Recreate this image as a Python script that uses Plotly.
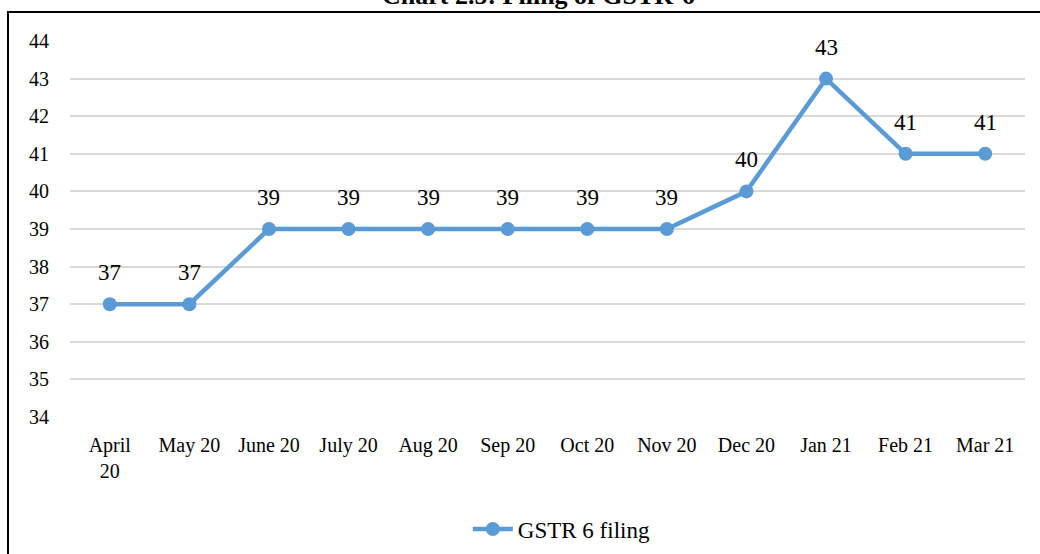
import plotly.graph_objects as go

months = ["April<br>20", "May 20", "June 20", "July 20", "Aug 20", "Sep 20",
          "Oct 20", "Nov 20", "Dec 20", "Jan 21", "Feb 21", "Mar 21"]
filings = [37, 37, 39, 39, 39, 39, 39, 39, 40, 43, 41, 41]
series_name = "GSTR 6 filing"
title_text = "Chart 2.5: Filing of GSTR-6"

FONT = "Liberation Serif"
BLUE = "#5B9BD5"

fig = go.Figure()
fig.add_trace(go.Scatter(
    x=months, y=filings, mode="lines+markers", name=series_name,
    line=dict(color=BLUE, width=4.5),
    marker=dict(color=BLUE, size=14),
    hoverinfo="skip",
))

for m, v in zip(months, filings):
    fig.add_annotation(x=m, y=v, xref="x", yref="y", text=str(v),
                       showarrow=False, yshift=31.5,
                       font=dict(family=FONT, size=23, color="#000000"))

L, R, T, B = 70, 15, 41, 137
W, H = 1040, 554
pw = W - L - R
ph = H - T - B

def px_to_paper_x(px):
    return (px - L) / pw

def px_to_paper_y(py):
    return (H - B - py) / ph

# outer chart border (partially off-canvas, as in the reference)
fig.add_shape(type="rect", xref="paper", yref="paper",
              x0=px_to_paper_x(8), x1=px_to_paper_x(1060),
              y0=px_to_paper_y(580), y1=px_to_paper_y(12),
              line=dict(color="#000000", width=2), fillcolor="rgba(0,0,0,0)",
              layer="below")

fig.add_annotation(text="<b>" + title_text + "</b>", xref="paper", yref="paper",
                   x=px_to_paper_x(538), y=px_to_paper_y(12), xanchor="center",
                   yanchor="bottom", showarrow=False,
                   font=dict(family=FONT, size=26, color="#000000"))

fig.update_layout(
    width=W, height=H,
    margin=dict(l=L, r=R, t=T, b=B, pad=0, autoexpand=False),
    paper_bgcolor="white", plot_bgcolor="white",
    font=dict(family=FONT, size=20, color="#000000"),
    showlegend=True,
    legend=dict(orientation="h", x=0.515, xanchor="center",
                y=px_to_paper_y(529), yanchor="middle",
                font=dict(family=FONT, size=23, color="#000000"),
                itemwidth=40),
    xaxis=dict(type="category", range=[-0.5, len(months) - 0.5],
               showgrid=False, zeroline=False, showline=False,
               automargin=False,
               ticks="outside", ticklen=10, tickcolor="rgba(0,0,0,0)",
               tickfont=dict(family=FONT, size=20, color="#000000")),
    yaxis=dict(range=[34, 44], dtick=1, showgrid=True, gridcolor="#D9D9D9",
               gridwidth=1.5, zeroline=False, showline=False, automargin=False,
               ticks="outside", ticklen=16, tickcolor="rgba(0,0,0,0)",
               tickfont=dict(family=FONT, size=20, color="#000000")),
)

fig.write_html("out.html", config={"displayModeBar": False},
               post_script="document.body.style.margin='0px';")
